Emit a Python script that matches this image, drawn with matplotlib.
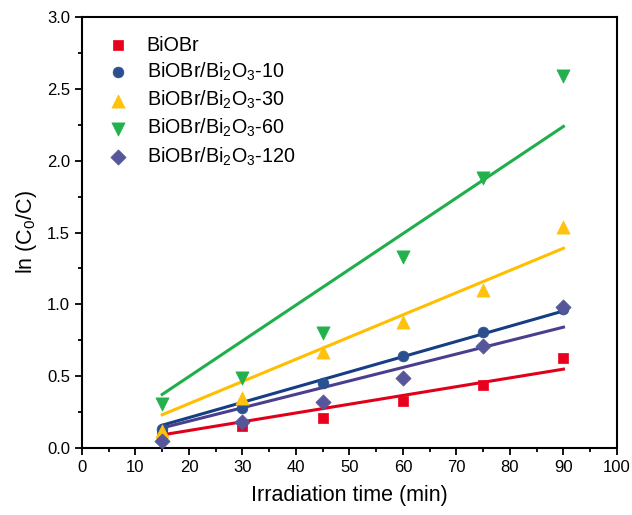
import numpy as np
import matplotlib
matplotlib.use("Agg")
import matplotlib.pyplot as plt
from matplotlib.ticker import MultipleLocator, FormatStrFormatter

plt.rcParams["font.family"] = ["Liberation Sans", "DejaVu Sans"]
plt.rcParams["mathtext.default"] = "regular"

# irradiation time (min) and ln(C0/C) for each sample
t = np.array([15, 30, 45, 60, 75, 90])
biobr = [0.09, 0.155, 0.21, 0.33, 0.44, 0.63]
bi10 = [0.13, 0.28, 0.45, 0.64, 0.81, 0.97]
bi30 = [0.12, 0.35, 0.67, 0.88, 1.10, 1.54]
bi60 = [0.31, 0.49, 0.80, 1.33, 1.88, 2.59]
bi120 = [0.05, 0.18, 0.32, 0.49, 0.71, 0.98]

labels = ["BiOBr", "BiOBr/Bi$_2$O$_3$-10", "BiOBr/Bi$_2$O$_3$-30",
          "BiOBr/Bi$_2$O$_3$-60", "BiOBr/Bi$_2$O$_3$-120"]

series = [
    # data, marker, size, point colour, line colour
    (biobr, "s", 55, "#E8001C", "#E0001A"),
    (bi10, "o", 60, "#2A5090", "#153F82"),
    (bi30, "^", 90, "#FFC20E", "#FFBF00"),
    (bi60, "v", 90, "#22B14C", "#1FAF4A"),
    (bi120, "D", 60, "#55579A", "#4A3F8C"),
]

fig = plt.figure(figsize=(6.32, 5.15), dpi=100)
ax = fig.add_axes([0.1297, 0.130, 0.8465, 0.837])

tt = np.array([t.min(), t.max()])
for (y, mk, ms, pc, lc), lab in zip(series, labels):
    y = np.asarray(y)
    # pseudo-first-order fit through the origin: ln(C0/C) = k t
    k = np.sum(t * y) / np.sum(t * t)
    ax.plot(tt, k * tt, color=lc, lw=2.2, zorder=2)
    ax.scatter(t, y, marker=mk, s=ms, color=pc, edgecolors=pc,
               linewidths=0.5, label=lab, zorder=3)

ax.set_xlim(0, 100)
ax.set_ylim(0, 3.0)
ax.xaxis.set_major_locator(MultipleLocator(10))
ax.xaxis.set_minor_locator(MultipleLocator(5))
ax.yaxis.set_major_locator(MultipleLocator(0.5))
ax.yaxis.set_minor_locator(MultipleLocator(0.25))
ax.yaxis.set_major_formatter(FormatStrFormatter("%.1f"))
ax.tick_params(which="both", direction="out", top=False, right=False,
               labelsize=12, width=1.3)
ax.tick_params(which="major", length=5)
ax.tick_params(which="minor", length=3)
for sp in ax.spines.values():
    sp.set_linewidth(1.5)

ax.set_xlabel("Irradiation time (min)", fontsize=15.5, labelpad=7)
ax.set_ylabel("ln (C$_0$/C)", fontsize=15.5, labelpad=6)

ax.legend(loc="upper left", frameon=False, fontsize=14.2, handlelength=1.0,
          handletextpad=0.95, labelspacing=0.3, borderaxespad=0,
          bbox_to_anchor=(0.034, 0.975), scatterpoints=1)

fig.savefig("out.png", dpi=100, facecolor="white")
